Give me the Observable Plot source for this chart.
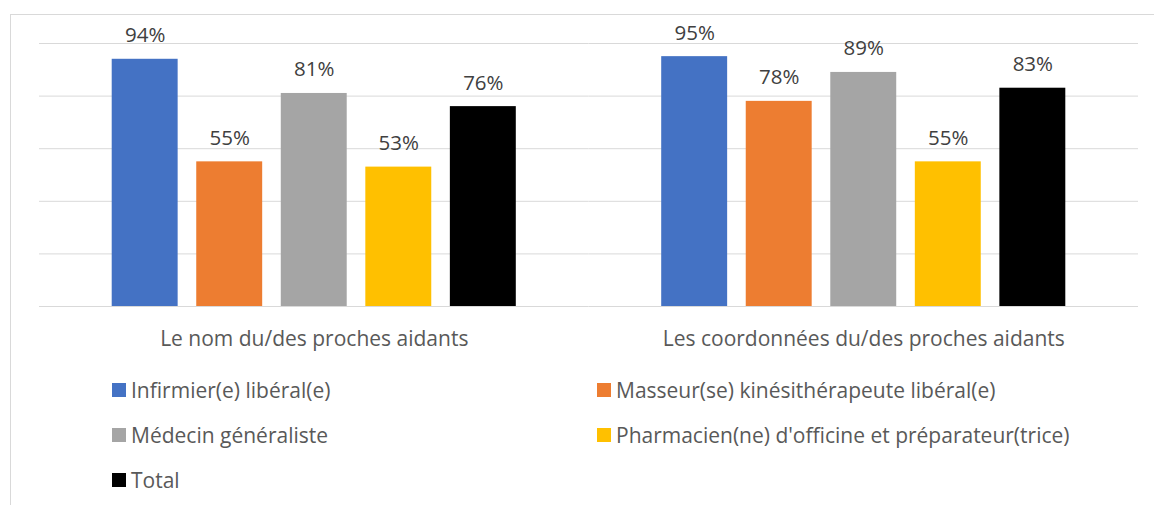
<!DOCTYPE html>
<html>
<head>
<meta charset="utf-8">
<script src="https://cdn.jsdelivr.net/npm/d3@7"></script>
<script src="https://cdn.jsdelivr.net/npm/@observablehq/plot@0.6"></script>
<style>
  html, body { margin: 0; padding: 0; background: #fff; width: 1154px; height: 505px; overflow: hidden; font-family: "Open Sans", sans-serif; }
  #frame { position: absolute; left: 10px; top: 14px; width: 1200px; height: 600px; border-left: 1px solid #d9d9d9; border-top: 1px solid #d9d9d9; }
  #chart { position: absolute; left: 0; top: 0; }
  .leg { position: absolute; display: flex; align-items: center; font-size: 21px; color: #595959; white-space: nowrap; }
  .sw { width: 14px; height: 14px; margin-right: 5px; flex: none; }
</style>
</head>
<body>
<div id="frame"></div>
<div id="chart"></div>
<div id="legend"></div>
<script>
const groups = ["Le nom du/des proches aidants", "Les coordonnées du/des proches aidants"];
const categories = ["Infirmier(e) libéral(e)", "Masseur(se) kinésithérapeute libéral(e)", "Médecin généraliste", "Pharmacien(ne) d'officine et préparateur(trice)", "Total"];
const colors = ["#4472C4", "#ED7D31", "#A5A5A5", "#FFC000", "#000000"];
const valuesNom = [94, 55, 81, 53, 76];
const valuesCoord = [95, 78, 89, 55, 83];
const yTicks = [0, 20, 40, 60, 80, 100];

const data = [];
categories.forEach((c, i) => data.push({group: groups[0], category: c, value: valuesNom[i]}));
categories.forEach((c, i) => data.push({group: groups[1], category: c, value: valuesCoord[i]}));

const plot = Plot.plot({
  width: 1154,
  height: 356,
  marginTop: 43,
  marginBottom: 50,
  marginLeft: 39,
  marginRight: 16,
  style: {fontFamily: "'Open Sans', sans-serif", fontSize: "21px", color: "#595959", background: "transparent"},
  fx: {domain: groups, padding: 0, round: false, axis: "bottom", tickSize: 0, tickPadding: 25, label: null},
  x: {domain: categories, paddingInner: 0.22, paddingOuter: 0.86, round: false, axis: null},
  y: {domain: [0, 100], axis: null},
  color: {domain: categories, range: colors},
  marks: [
    Plot.ruleY(yTicks, {stroke: "#d9d9d9", strokeWidth: 1}),
    Plot.barY(data, {fx: "group", x: "category", y: "value", fill: "category"}),
    Plot.text(data, {fx: "group", x: "category", y: "value", text: d => d.value + "%", lineAnchor: "bottom", dy: -17, fill: "#404040", fontSize: 20.5})
  ]
});
document.getElementById("chart").appendChild(plot);

const legendPos = [[112, 390], [597, 390], [112, 435], [597, 435], [112, 480]];
const legend = document.getElementById("legend");
categories.forEach((c, i) => {
  const el = document.createElement("div");
  el.className = "leg";
  el.style.left = legendPos[i][0] + "px";
  el.style.top = (legendPos[i][1] - 14) + "px";
  el.style.height = "28px";
  const sw = document.createElement("span");
  sw.className = "sw";
  sw.style.background = colors[i];
  const t = document.createElement("span");
  t.textContent = c;
  el.appendChild(sw);
  el.appendChild(t);
  legend.appendChild(el);
});
</script>
</body>
</html>
